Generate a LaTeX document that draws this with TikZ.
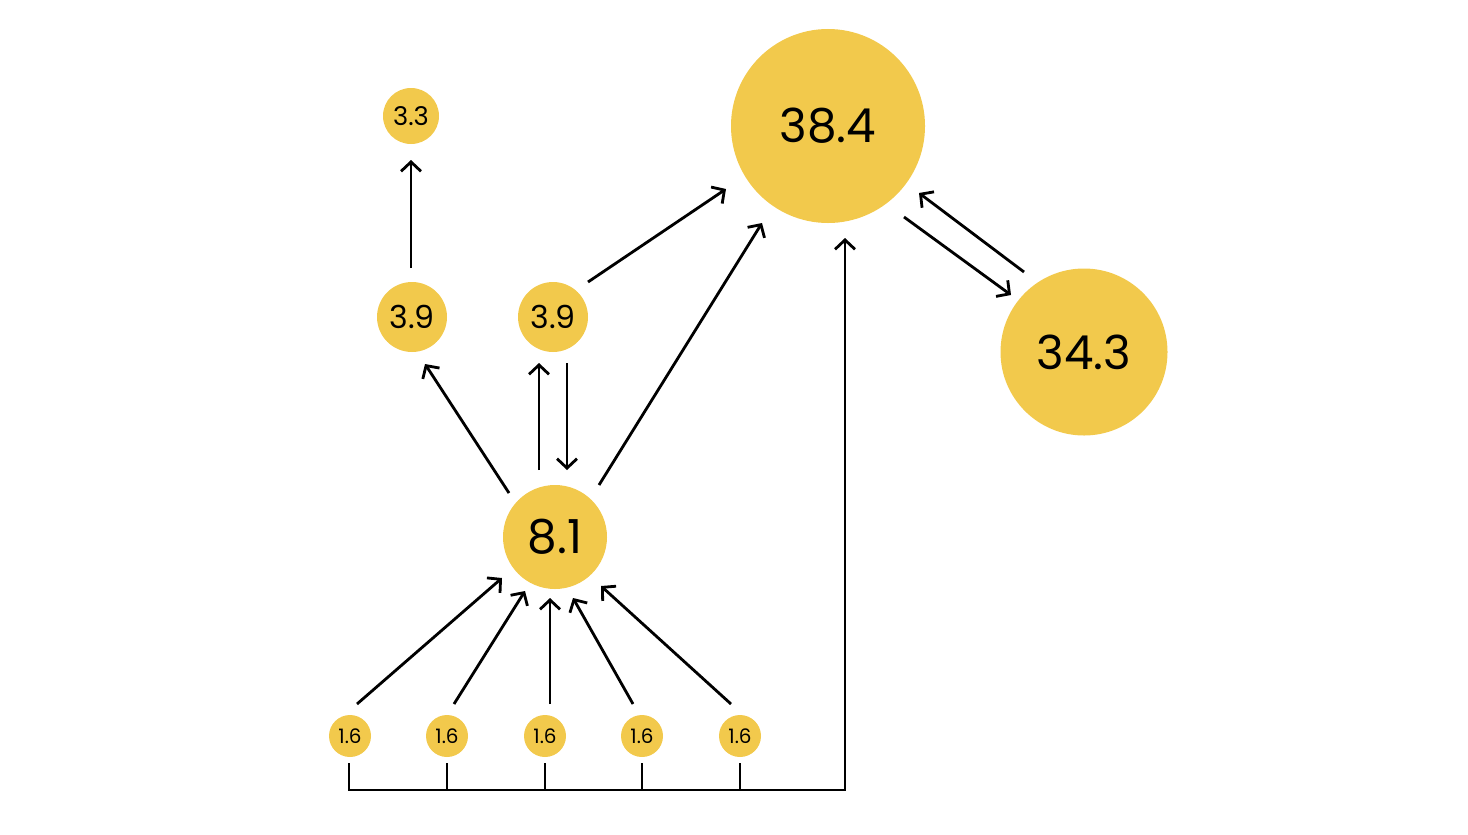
\documentclass[tikz,border=0pt]{standalone}
\usepackage{fontspec}
\setmainfont{Poppins}
\usetikzlibrary{arrows.meta,calc}
\definecolor{gold}{HTML}{F2C94C}
\tikzset{
  ball/.style={circle,fill=gold,inner sep=0pt},
  huge ball/.style={ball,minimum size=5.82cm,font=\fontsize{40}{48}\selectfont},
  big ball/.style={ball,minimum size=5.01cm,font=\fontsize{40}{48}\selectfont},
  mid ball/.style={ball,minimum size=3.12cm,font=\fontsize{40}{48}\selectfont},
  small ball/.style={ball,minimum size=2.1cm,font=\fontsize{27}{32}\selectfont},
  tiny ball/.style={ball,minimum size=1.68cm,font=\fontsize{22}{26}\selectfont},
  leaf ball/.style={ball,minimum size=1.26cm,font=\fontsize{17}{20}\selectfont},
  arr/.style={-{Straight Barb[length=8pt,width=17pt]},line width=2.4pt},
  link/.style={line width=2.4pt},
}
\begin{document}
\begin{tikzpicture}[x=0.03cm,y=-0.03cm]
  \useasboundingbox (0,0) rectangle (1468,834);
  % circles
  \node[huge ball]  (n384) at (828,126)  {38.4};
  \node[big ball]   (n343) at (1084,352) {34.3};
  \node[mid ball]   (n81)  at (555,537)  {8.1};
  \node[small ball] (n39a) at (412,317)  {3.9};
  \node[small ball] (n39b) at (553,317)  {3.9};
  \node[tiny ball]  (n33)  at (411,116)  {3.3};
  \foreach \x [count=\i] in {350,447,545,642,740}
    \node[leaf ball] (s\i) at (\x,736) {1.6};
  % leaves into 8.1
  \draw[arr] ($(s1)+(7,-32)$) -- ($(n81)+(-53,41)$);
  \draw[arr] ($(s2)+(7,-32)$) -- ($(n81)+(-30,54)$);
  \draw[arr] ($(s3)+(5,-32)$) -- ($(n81)+(-5,61)$);
  \draw[arr] ($(s4)+(-9,-32)$) -- ($(n81)+(18,61)$);
  \draw[arr] ($(s5)+(-9,-32)$) -- ($(n81)+(46,49)$);
  % middle layer
  \draw[arr] ($(n81)+(-46,-44)$) -- ($(n39a)+(13,47)$);
  \draw[arr] ($(n81)+(-16,-67)$) -- ($(n39b)+(-14,46)$);
  \draw[arr] ($(n39b)+(14,46)$) -- ($(n81)+(12,-67)$);
  \draw[arr] ($(n39a)+(-1,-49)$) -- ($(n33)+(0,44)$);
  \draw[arr] ($(n39b)+(35,-35)$) -- ($(n384)+(-102,63)$);
  \draw[arr] ($(n81)+(44,-52)$) -- ($(n384)+(-66,97)$);
  % top pair
  \draw[arr] ($(n384)+(76,91)$) -- ($(n343)+(-73,-57)$);
  \draw[arr] ($(n343)+(-60,-80)$) -- ($(n384)+(91,67)$);
  % bus under the leaves
  \draw[arr] ($(s1)+(-1,27)$) |- ($(n384)+(17,664)$) -- ($(n384)+(17,112)$);
  \foreach \i in {2,...,5}
    \draw[link] ($(s\i)+(0,27)$) -- ++(0,27);
\end{tikzpicture}
\end{document}
